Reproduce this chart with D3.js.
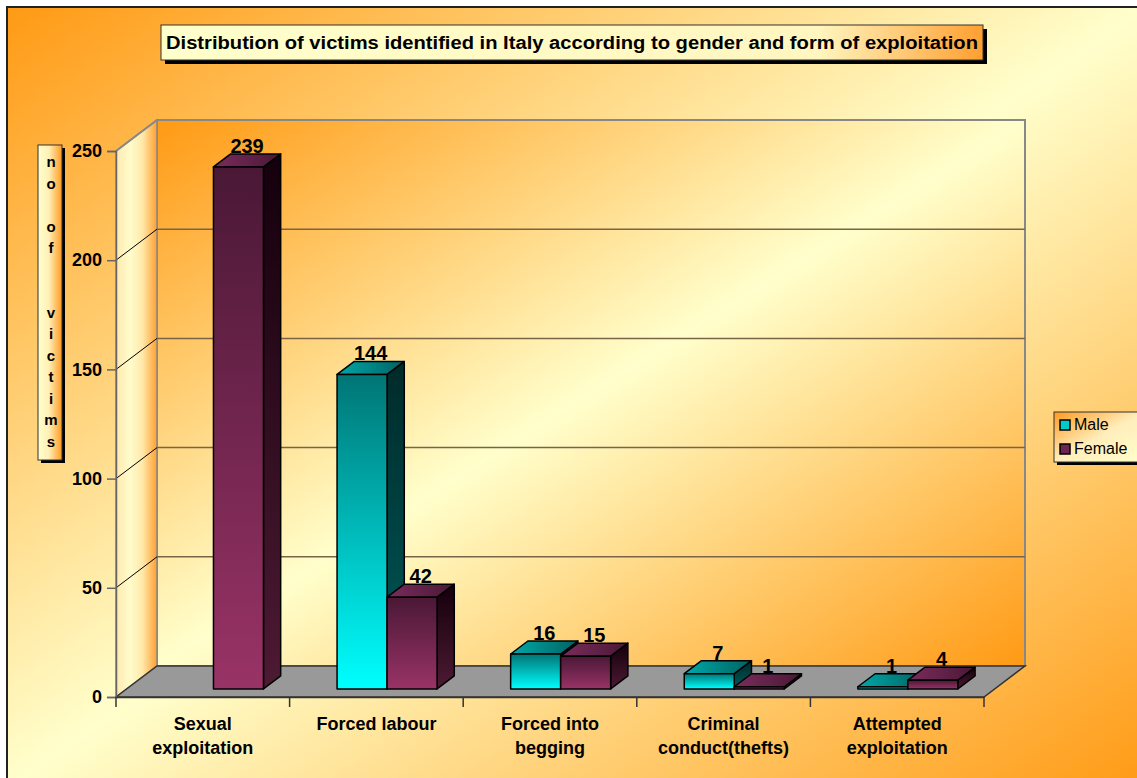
<!DOCTYPE html>
<html lang="en">
<head>
  <meta charset="UTF-8">
  <title>Distribution of victims identified in Italy</title>
  <script src="https://d3js.org/d3.v7.min.js"></script>
  <style>
    body { margin: 0; overflow: hidden; background: #fff; }
    svg { display: block; font-family: Arial, "Liberation Sans", sans-serif; }
    .lbl { font-weight: bold; font-size: 18px; fill: #000; }
    .val { font-weight: bold; font-size: 20px; fill: #000; }
  </style>
</head>
<body>
  <svg width="1137" height="778"></svg>

  <script>
    // data
    const categories = ["Sexual exploitation", "Forced labour", "Forced into begging", "Criminal conduct(thefts)", "Attempted exploitation"];
    const categoryLines = [["Sexual", "exploitation"], ["Forced labour"], ["Forced into", "begging"], ["Criminal", "conduct(thefts)"], ["Attempted", "exploitation"]];
    const seriesNames = ["Male", "Female"];
    const maleValues = [0, 144, 16, 7, 1];
    const femaleValues = [239, 42, 15, 1, 4];
    const yTicks = [0, 50, 100, 150, 200, 250];
    const titleText = "Distribution of victims identified in Italy according to gender and form of exploitation";
    const yTitle = "no of  victims";

    const svg = d3.select('svg');
    const defs = svg.append('defs');

    // 3d geometry of the plot box
    const DX = 41, DY = -31;
    const barFront = 0.26, barBack = 0.68;
    const fx = DX * barFront, fy = DY * barFront;
    const bx = DX * barBack, by = DY * barBack;

    const x = d3.scaleBand().domain(categories).range([116, 984]);
    const xs = d3.scaleBand().domain(seriesNames).range([0, x.bandwidth()]).paddingInner(0).paddingOuter(0.736);
    const y = d3.scaleLinear().domain([0, 250]).range([697, 151]);
    const y0 = y(0);

    function grad(id, stops, x1, y1, x2, y2) {
      const g = defs.append('linearGradient').attr('id', id)
        .attr('x1', x1).attr('y1', y1).attr('x2', x2).attr('y2', y2);
      stops.forEach(s => g.append('stop').attr('offset', s[0]).attr('stop-color', s[1]));
    }
    grad('bgGrad', [[0, '#ff9a14'], [0.5, '#ffffcc'], [1, '#ff9a14']], 0, 0, 1, 1);
    grad('wallGrad', [[0, '#ff9a14'], [0.5, '#ffffcc'], [1, '#ff9a14']], 0, 0, 1, 1);
    grad('sideGrad', [[0, '#ffe9b0'], [0.35, '#fffccc'], [0.65, '#ffe8a8'], [1, '#ff9f30']], 0, 0, 1, 0);
    grad('titleGrad', [[0, '#ffffcc'], [0.8, '#fff6c0'], [1, '#ff9f30']], 0, 0, 1, 0);
    grad('yTitleGrad', [[0, '#ffffcc'], [0.45, '#fff0b8'], [1, '#ff9a20']], 0, 0, 1, 0);
    grad('legGrad', [[0, '#ff9a20'], [0.5, '#ffeebb'], [1, '#ffffcc']], 0, 0, 1, 1);
    grad('maleFront', [[0, '#007575'], [1, '#00ffff']], 0, 0, 0, 1);
    grad('maleSide', [[0, '#002a2a'], [1, '#005a5a']], 0, 0, 0, 1);
    grad('maleTop', [[0, '#00a8a8'], [1, '#006262']], 0, 0, 1, 0);
    grad('femFront', [[0, '#4a1836'], [1, '#993366']], 0, 0, 0, 1);
    grad('femSide', [[0, '#14000c'], [1, '#4d1a33']], 0, 0, 0, 1);
    grad('femTop', [[0, '#7a2c5c'], [1, '#4a1836']], 0, 0, 1, 0);

    // page background with frame
    svg.append('rect').attr('x', 7).attr('y', 7).attr('width', 1140).attr('height', 780)
      .attr('fill', 'url(#bgGrad)').attr('stroke', '#222').attr('stroke-width', 2);

    // walls
    const xl = x.range()[0], xr = x.range()[1];
    const yt = y(250);
    svg.append('path')
      .attr('d', `M${xl + DX},${yt + DY}H${xr + DX}V${y0 + DY}H${xl + DX}Z`)
      .attr('fill', 'url(#wallGrad)').attr('stroke', '#888').attr('stroke-width', 2);
    svg.append('path')
      .attr('d', `M${xl},${yt}L${xl + DX},${yt + DY}V${y0 + DY}L${xl},${y0}Z`)
      .attr('fill', 'url(#sideGrad)').attr('stroke', '#888').attr('stroke-width', 1.5);
    // floor
    svg.append('path')
      .attr('d', `M${xl},${y0}H${xr}L${xr + DX},${y0 + DY}H${xl + DX}Z`)
      .attr('fill', '#999999').attr('stroke', '#333').attr('stroke-width', 1.5);

    // gridlines
    svg.append('g').selectAll('line')
      .data(yTicks.filter(t => t > 0 && t < 250))
      .join('line')
      .attr('x1', xl + DX).attr('x2', xr + DX)
      .attr('y1', d => y(d) + DY).attr('y2', d => y(d) + DY)
      .attr('stroke', '#7a6448').attr('stroke-width', 1.5);
    svg.append('g').selectAll('line')
      .data(yTicks.filter(t => t > 0))
      .join('line')
      .attr('x1', xl).attr('x2', xl + DX)
      .attr('y1', d => y(d)).attr('y2', d => y(d) + DY)
      .attr('stroke', d => d === 250 ? '#888' : '#000')
      .attr('stroke-width', d => d === 250 ? 2 : 1);

    // bars
    const rows = categories.map((c, i) => [
      { cat: c, s: 'Male', v: maleValues[i] },
      { cat: c, s: 'Female', v: femaleValues[i] }
    ]).flat();

    const barG = svg.append('g').attr('stroke', '#000').attr('stroke-width', 1.5).attr('stroke-linejoin', 'round');
    rows.forEach(d => {
      if (d.v <= 0) return;
      const left = x(d.cat) + xs(d.s);
      const w = xs.bandwidth();
      const top = y(d.v);
      const pre = d.s === 'Male' ? 'male' : 'fem';
      const g = barG.append('g');
      g.append('path')
        .attr('d', `M${left + w + fx},${top + fy}L${left + w + bx},${top + by}L${left + w + bx},${y0 + by}L${left + w + fx},${y0 + fy}Z`)
        .attr('fill', `url(#${pre}Side)`);
      g.append('path')
        .attr('d', `M${left + fx},${top + fy}L${left + w + fx},${top + fy}L${left + w + bx},${top + by}L${left + bx},${top + by}Z`)
        .attr('fill', `url(#${pre}Top)`);
      g.append('rect')
        .attr('x', left + fx).attr('y', top + fy)
        .attr('width', w).attr('height', Math.max(0.5, y0 - top))
        .attr('fill', `url(#${pre}Front)`);
    });

    // value labels
    svg.append('g').selectAll('text')
      .data(rows.filter(d => d.v > 0))
      .join('text')
      .attr('class', 'val')
      .attr('text-anchor', 'middle')
      .attr('x', d => x(d.cat) + xs(d.s) + xs.bandwidth() / 2 + (fx + bx) / 2)
      .attr('y', d => y(d.v) + by - 1)
      .text(d => d.v);

    // y axis
    const yAxis = svg.append('g')
      .attr('transform', `translate(${xl},0)`)
      .call(d3.axisLeft(y).tickValues(yTicks).tickSize(9).tickPadding(5));
    yAxis.select('.domain').attr('stroke', '#666').attr('stroke-width', 1.5);
    yAxis.selectAll('.tick line').attr('stroke', '#666').attr('stroke-width', 1.5);
    yAxis.selectAll('.tick text').attr('class', 'lbl').attr('font-size', null).attr('font-family', null);

    // x axis
    const xAxis = svg.append('g')
      .attr('transform', `translate(0,${y0})`)
      .call(d3.axisBottom(x).tickSize(0).tickFormat(''));
    xAxis.select('.domain').attr('stroke', '#333').attr('stroke-width', 1.5);
    xAxis.selectAll('.tick').remove();
    xAxis.selectAll('line.sep')
      .data(d3.range(categories.length + 1))
      .join('line').attr('class', 'sep')
      .attr('x1', i => xl + i * x.step()).attr('x2', i => xl + i * x.step())
      .attr('y1', 0).attr('y2', 10)
      .attr('stroke', '#333').attr('stroke-width', 1.5);

    const catText = svg.append('g').selectAll('text')
      .data(categories)
      .join('text')
      .attr('class', 'lbl')
      .attr('text-anchor', 'middle')
      .attr('x', d => x(d) + x.bandwidth() / 2)
      .attr('y', 730);
    catText.selectAll('tspan')
      .data((d, i) => categoryLines[i].map(l => ({ l, cx: x(d) + x.bandwidth() / 2 })))
      .join('tspan')
      .attr('x', d => d.cx)
      .attr('dy', (d, i) => i === 0 ? 0 : 24)
      .text(d => d.l);

    // title box
    svg.append('rect').attr('x', 165).attr('y', 29).attr('width', 822).attr('height', 35).attr('fill', '#000');
    svg.append('rect').attr('x', 161).attr('y', 25).attr('width', 822).attr('height', 35)
      .attr('fill', 'url(#titleGrad)').attr('stroke', '#333').attr('stroke-width', 1);
    svg.append('text').attr('class', 'lbl')
      .attr('x', 572).attr('y', 49).attr('text-anchor', 'middle')
      .attr('textLength', 812).attr('lengthAdjust', 'spacingAndGlyphs')
      .text(titleText);

    // y axis title box
    svg.append('rect').attr('x', 41).attr('y', 148).attr('width', 24).attr('height', 315).attr('fill', '#000');
    svg.append('rect').attr('x', 38).attr('y', 145).attr('width', 24).attr('height', 315)
      .attr('fill', 'url(#yTitleGrad)').attr('stroke', '#333').attr('stroke-width', 1);
    const yt2 = svg.append('text').attr('font-weight', 'bold').attr('font-size', 15)
      .attr('text-anchor', 'middle').attr('x', 51).attr('y', 167);
    yt2.selectAll('tspan')
      .data(yTitle.split(''))
      .join('tspan')
      .attr('x', 51)
      .attr('dy', (d, i) => i === 0 ? 0 : 21.5)
      .text(d => d === ' ' ? '\u00a0' : d);

    // legend
    const legend = svg.append('g');
    legend.append('rect').attr('x', 1057).attr('y', 415).attr('width', 90).attr('height', 50).attr('fill', '#000');
    legend.append('rect').attr('x', 1054).attr('y', 412).attr('width', 90).attr('height', 50)
      .attr('fill', 'url(#legGrad)').attr('stroke', '#333').attr('stroke-width', 1);
    const legColors = { Male: '#00cccc', Female: '#6e2450' };
    const li = legend.selectAll('g.item').data(seriesNames).join('g').attr('class', 'item')
      .attr('transform', (d, i) => `translate(1060,${420 + i * 24})`);
    li.append('rect').attr('width', 10).attr('height', 10)
      .attr('fill', d => legColors[d]).attr('stroke', '#000').attr('stroke-width', 1.5);
    li.append('text').attr('x', 14).attr('y', 10).attr('font-size', 16).text(d => d);
  </script>
</body>
</html>
